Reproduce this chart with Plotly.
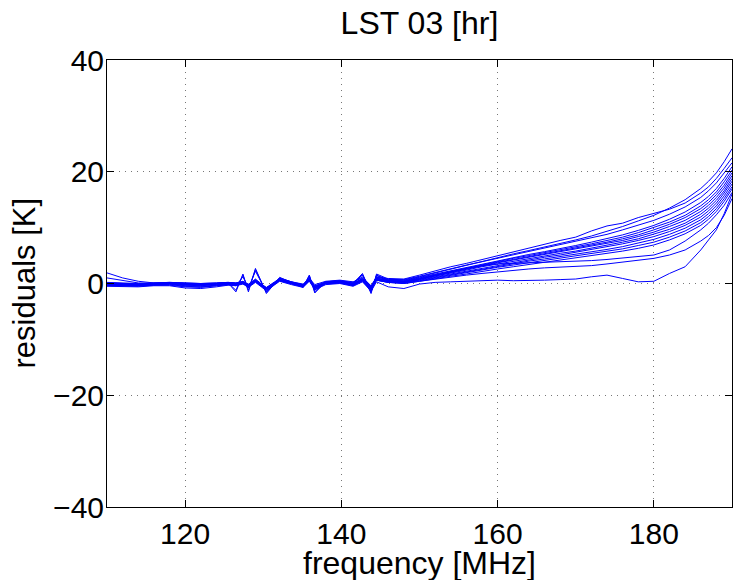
import plotly.graph_objects as go

freq_mhz = [110, 112, 114, 116, 118, 120, 122, 124, 125.5, 126.5, 127.4, 128.1, 129.0, 130.4,
            132.1, 133.6, 135.1, 135.9, 136.6, 138.0, 139.8, 141.5, 142.7, 143.8, 144.5, 146,
            148, 150, 152, 154, 156, 158, 160, 162, 164, 166, 168, 170, 172, 174, 176, 178, 180,
            182, 184, 186, 187, 188, 189, 190]

res_01 = [0.2, 0.1, 0.0, 0.1, 0.2, 0.1, 0.0, 0.1, 0.2, 0.1, 0.4, -0.2, 0.8, -0.8, 0.8, 0.3, -0.1, 0.9, -0.2, 0.4, 0.6, 0.3, 1.0, -0.4, 1.1, 0.9,
          0.8, 1.5, 2.3, 3.0, 3.6, 4.3, 5.0, 5.6, 6.4, 7.0, 7.7, 8.3, 9.4, 10.3, 10.8, 11.8, 12.6, 13.3, 14.4, 16.2, 17.3, 18.8, 20.6, 22.5]
res_02 = [1.9, 1.0, 0.4, 0.1, 0.0, -0.1, -0.2, 0.0, 0.1, -1.5, 1.7, -1.5, 2.7, -1.8, 1.1, 0.2, -0.6, 1.5, -1.7, 0.3, 0.5, 0.0, 1.8, -1.8, 1.7, 0.8,
          0.6, 1.2, 1.9, 2.6, 3.3, 4.0, 4.6, 5.3, 5.9, 6.5, 7.2, 7.8, 8.5, 9.3, 10.2, 11.2, 12.2, 13.5, 15.0, 17.0, 18.3, 19.8, 21.8, 24.1]
res_03 = [1.0, 0.5, 0.1, 0.0, 0.0, -0.2, -0.3, -0.1, 0.0, -0.4, 1.2, -0.8, 2.2, -1.5, 1.0, 0.3, -0.5, 1.2, -1.2, 0.2, 0.4, 0.1, 1.5, -1.4, 1.4, 0.7,
          0.7, 1.3, 2.0, 2.7, 3.3, 3.9, 4.5, 5.2, 5.8, 6.3, 6.9, 7.5, 8.1, 8.8, 9.6, 10.4, 11.3, 12.4, 13.7, 15.4, 16.6, 18.0, 19.7, 21.6]
res_04 = [0.0, -0.1, -0.2, 0.0, 0.1, 0.0, -0.1, 0.0, 0.1, -1.2, 1.5, -1.2, 2.5, -1.6, 0.9, 0.2, -0.7, 1.4, -1.5, 0.3, 0.4, -0.1, 1.6, -1.6, 1.5, 0.6,
          0.5, 1.1, 1.7, 2.3, 2.9, 3.5, 4.1, 4.7, 5.2, 5.7, 6.2, 6.8, 7.4, 8.0, 8.7, 9.5, 10.4, 11.5, 12.8, 14.5, 15.6, 17.0, 18.8, 20.9]
res_05 = [-0.2, -0.2, -0.3, -0.1, 0.0, -0.1, -0.2, -0.1, 0.0, -0.2, 0.3, -0.4, 0.7, -1.0, 0.7, 0.1, -0.4, 0.8, -0.8, 0.1, 0.3, 0.0, 0.8, -0.8, 0.9, 0.5,
          0.4, 1.0, 1.6, 2.2, 2.8, 3.4, 4.0, 4.5, 5.0, 5.5, 6.0, 6.5, 7.1, 7.7, 8.3, 9.1, 10.0, 11.0, 12.2, 13.9, 15.0, 16.4, 18.2, 20.3]
res_06 = [-0.1, -0.1, -0.2, 0.0, 0.1, 0.0, -0.1, 0.0, 0.1, 0.0, 0.2, -0.2, 0.5, -0.9, 0.8, 0.2, -0.3, 0.7, -0.6, 0.2, 0.2, -0.2, 0.7, -0.6, 0.8, 0.4,
          0.4, 0.9, 1.5, 2.1, 2.7, 3.3, 3.8, 4.3, 4.8, 5.3, 5.8, 6.3, 6.8, 7.4, 8.0, 8.7, 9.6, 10.6, 11.8, 13.4, 14.5, 15.9, 17.6, 19.8]
res_07 = [-0.3, -0.3, -0.4, -0.2, -0.1, -0.3, -0.4, -0.2, -0.1, -0.2, 0.1, -0.5, 0.4, -1.1, 0.6, 0.0, -0.5, 0.6, -0.9, 0.0, 0.2, -0.3, 0.6, -1.0, 0.7, 0.3,
          0.3, 0.8, 1.4, 2.0, 2.6, 3.1, 3.7, 4.2, 4.7, 5.1, 5.6, 6.1, 6.6, 7.1, 7.7, 8.4, 9.2, 10.2, 11.3, 12.9, 14.0, 15.4, 17.1, 19.3]
res_08 = [0.1, 0.0, -0.1, 0.1, 0.2, 0.1, 0.0, 0.1, 0.2, 0.1, 0.3, -0.1, 0.6, -0.7, 0.9, 0.3, -0.2, 1.0, -0.4, 0.3, 0.5, 0.2, 1.2, -0.5, 1.2, 0.6,
          0.3, 0.8, 1.3, 1.9, 2.4, 3.0, 3.5, 4.0, 4.5, 4.9, 5.4, 5.8, 6.3, 6.8, 7.4, 8.0, 8.8, 9.7, 10.8, 12.4, 13.5, 14.9, 16.6, 18.8]
res_09 = [-0.4, -0.4, -0.5, -0.3, -0.3, -0.6, -0.7, -0.4, -0.2, -0.3, 0.0, -0.6, 0.3, -1.2, 0.5, -0.1, -0.6, 0.5, -1.0, -0.1, 0.1, -0.4, 0.4, -1.2, 0.6, 0.2,
          0.2, 0.7, 1.2, 1.8, 2.3, 2.8, 3.3, 3.8, 4.3, 4.7, 5.1, 5.6, 6.0, 6.5, 7.1, 7.7, 8.4, 9.3, 10.4, 11.9, 13.0, 14.4, 16.2, 18.3]
res_10 = [0.0, -0.1, -0.1, 0.0, 0.1, -0.1, -0.2, 0.0, 0.1, 0.0, 0.2, -0.3, 0.5, -0.8, 0.7, 0.2, -0.3, 0.8, -0.5, 0.2, 0.3, 0.0, 0.9, -0.7, 1.0, 0.5,
          0.2, 0.6, 1.1, 1.6, 2.1, 2.6, 3.1, 3.6, 4.0, 4.4, 4.8, 5.2, 5.6, 6.1, 6.6, 7.2, 7.9, 8.8, 9.9, 11.4, 12.5, 13.9, 15.7, 17.8]
res_11 = [-0.2, -0.3, -0.3, -0.2, -0.1, -0.4, -0.5, -0.3, -0.1, -0.1, 0.1, -0.4, 0.4, -0.9, 0.6, 0.1, -0.4, 0.6, -0.7, 0.1, 0.2, -0.2, 0.6, -0.9, 0.7, 0.3,
          0.1, 0.5, 1.0, 1.5, 1.9, 2.4, 2.9, 3.3, 3.7, 4.1, 4.5, 4.9, 5.3, 5.7, 6.2, 6.8, 7.4, 8.3, 9.4, 10.9, 12.0, 13.4, 15.2, 17.3]
res_12 = [-0.3, -0.4, -0.4, -0.3, -0.2, -0.5, -0.6, -0.4, -0.2, -0.2, 0.0, -0.5, 0.3, -1.0, 0.5, 0.0, -0.5, 0.5, -0.8, 0.0, 0.1, -0.3, 0.5, -1.1, 0.6, 0.2,
          0.0, 0.4, 0.9, 1.3, 1.7, 2.2, 2.6, 3.0, 3.4, 3.8, 4.2, 4.5, 4.9, 5.3, 5.8, 6.3, 6.9, 7.8, 8.9, 10.4, 11.5, 12.9, 14.7, 16.9]
res_13 = [0.1, 0.0, -0.1, 0.0, 0.1, 0.0, -0.1, 0.0, 0.1, 0.0, 0.2, -0.2, 0.5, -0.8, 0.8, 0.2, -0.4, 0.7, -0.6, 0.2, 0.3, 0.0, 0.8, -0.6, 0.9, 0.6,
          0.2, 0.8, 1.5, 2.1, 2.7, 3.2, 3.5, 3.6, 3.6, 3.7, 3.8, 3.9, 4.1, 4.3, 4.6, 4.9, 5.1, 6.0, 7.6, 9.6, 10.8, 12.3, 14.0, 16.3]
res_14 = [-0.1, -0.2, -0.2, -0.1, 0.0, -0.2, -0.3, -0.1, 0.0, -0.1, 0.1, -0.3, 0.4, -0.9, 0.6, 0.1, -0.4, 0.6, -0.6, 0.1, 0.2, -0.1, 0.5, -0.8, 0.6, 0.2,
          0.0, 0.4, 0.8, 1.2, 1.5, 1.8, 2.1, 2.3, 2.6, 2.8, 2.9, 3.0, 3.2, 3.5, 3.8, 4.1, 4.5, 5.1, 6.0, 7.6, 8.6, 10.0, 12.2, 15.2]
res_15 = [-0.5, -0.5, -0.6, -0.4, -0.4, -0.8, -0.9, -0.6, -0.3, -0.4, -0.1, -0.7, 0.2, -1.3, 0.4, -0.2, -0.7, 0.4, -1.1, -0.2, 0.0, -0.5, 0.3, -1.4, 0.3, -0.6,
          -0.9, -0.1, 0.2, 0.3, 0.4, 0.5, 0.6, 0.5, 0.5, 0.6, 0.7, 0.8, 1.2, 1.5, 0.9, 0.3, 0.4, 1.8, 3.0, 6.0, 7.8, 9.6, 12.5, 16.0]

all_series = [res_01, res_02, res_03, res_04, res_05, res_06, res_07, res_08,
              res_09, res_10, res_11, res_12, res_13, res_14, res_15]

x_ticks = [120, 140, 160, 180]
y_ticks = [-40, -20, 0, 20, 40]

title_text = "LST 03 [hr]"
x_title = "frequency [MHz]"
y_title = "residuals [K]"

FONT = "Liberation Sans, Arial, Helvetica, sans-serif"

fig = go.Figure()
for s in all_series:
    fig.add_trace(go.Scatter(x=freq_mhz, y=s, mode="lines",
                             line=dict(color="#0000ff", width=1), showlegend=False,
                             hoverinfo="skip"))

axis_common = dict(
    showline=True, linecolor="black", linewidth=1, mirror="ticks",
    ticks="inside", ticklen=7, tickcolor="black", tickwidth=1,
    showgrid=True, gridcolor="#777777", gridwidth=1, griddash="1px,5px",
    zeroline=False,
    tickfont=dict(family=FONT, size=30, color="black"),
)

fig.update_xaxes(range=[110, 190], tickvals=x_ticks, ticktext=[str(t) for t in x_ticks],
                 **axis_common)
fig.update_yaxes(range=[-40, 40], tickvals=y_ticks,
                 ticktext=[("\u2212" + str(-t)) if t < 0 else str(t) for t in y_ticks],
                 ticklabelstandoff=-4,
                 **axis_common)

W, H = 734, 580
fig.update_layout(
    width=W, height=H,
    margin=dict(l=107, r=2, t=60, b=73, autoexpand=False),
    paper_bgcolor="white", plot_bgcolor="white",
    title=dict(text=title_text, x=0.5715, xanchor="center", y=1 - 23 / H, yanchor="middle",
               yref="container", font=dict(family=FONT, size=32, color="black")),
    annotations=[
        dict(text=x_title, xref="paper", yref="paper", x=0.5, y=0, xanchor="center",
             yanchor="middle", yshift=-56, showarrow=False,
             font=dict(family=FONT, size=32, color="black")),
        dict(text=y_title, xref="paper", yref="paper", x=0, y=0.5, xanchor="center",
             yanchor="middle", xshift=-83, textangle=-90, showarrow=False,
             font=dict(family=FONT, size=31, color="black")),
    ],
)

fig.write_html(
    "out.html",
    config={"displayModeBar": False},
    post_script="document.body.style.margin='0';document.body.style.overflow='hidden';",
)
